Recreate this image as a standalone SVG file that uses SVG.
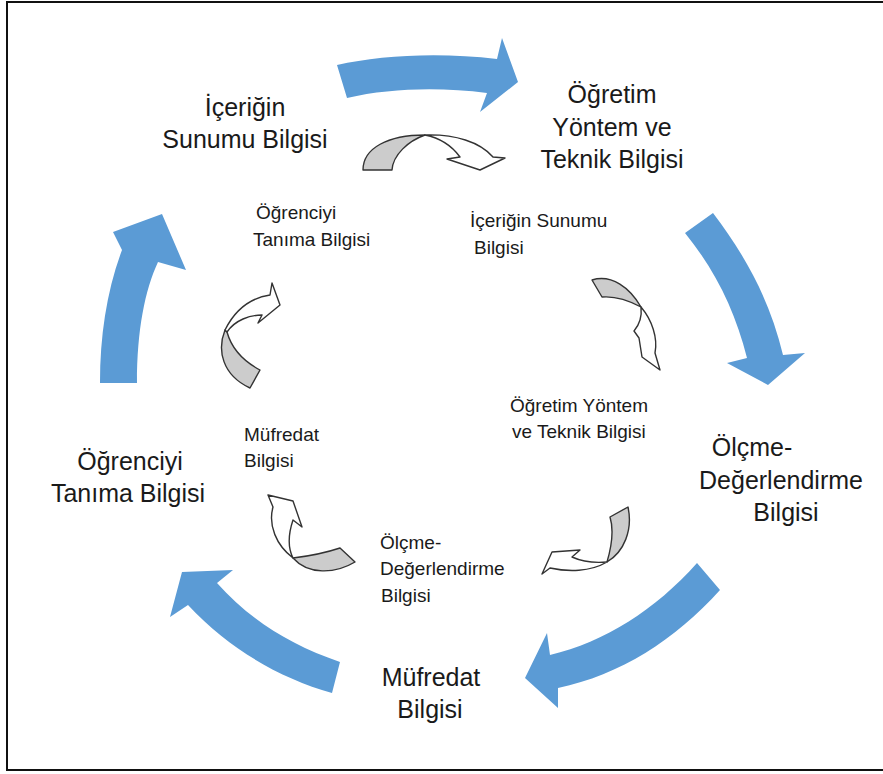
<svg xmlns="http://www.w3.org/2000/svg" width="883" height="774" viewBox="0 0 883 774">
  <style>
    .big { font-family: "Liberation Sans", Arial, sans-serif; font-size: 25px; fill: #1a1a1a; text-anchor: middle; }
    .small { font-family: "Liberation Sans", Arial, sans-serif; font-size: 19px; fill: #1a1a1a; }
    .cycle { fill: #5b9bd5; }
    .back { fill: #cccccc; stroke: #333333; stroke-width: 1.4; stroke-linejoin: round; }
    .front { fill: #ffffff; stroke: #333333; stroke-width: 1.4; stroke-linejoin: round; }
  </style>

  <rect x="0" y="0" width="883" height="774" fill="#ffffff"/>
  <!-- frame (right side runs past the canvas) -->
  <rect x="7" y="2" width="900" height="768" fill="none" stroke="#111111" stroke-width="2"/>

  <!-- outer cycle of blue curved arrows -->
  <g id="connectors">
    <path class="cycle" d="M337,65 C380,55 440,52 497,59 L502,38 L518,82 L480,112 L487,93 C440,87 390,88 347,98 Z"/>
    <path class="cycle" d="M685,233 L713,213 C745,255 770,300 783,355 L805,353 L768,385 L727,363 L747,358 C735,310 715,270 685,233 Z"/>
    <path class="cycle" d="M697,563 L720,590 C675,640 620,675 558,688 L558,708 L525,678 L547,633 L550,655 C605,642 655,610 697,563 Z"/>
    <path class="cycle" d="M340,662 L332,693 C280,678 230,650 188,605 L170,617 L182,572 L233,570 L217,583 C250,620 290,645 340,662 Z"/>
    <path class="cycle" d="M100,383 L137,383 C137,330 145,290 158,262 L186,270 L162,214 L113,232 L122,250 C107,290 100,335 100,383 Z"/>

    <!-- inner cycle of small twisted arrows -->
    <g id="inner-arrow-top">
      <path class="back" d="M363,170 C363,148 388,135 425,135 C408,141 393,155 392,170 Z"/>
      <path class="front" d="M425,135 C455,134 480,142 493,157 L505,158 L480,170 L447,159 L460,157 C452,146 440,138 425,135 Z"/>
    </g>
    <g id="inner-arrow-right">
      <path class="back" d="M592,280 C612,274 630,288 641,307 C628,300 614,296 602,297 Z"/>
      <path class="front" d="M641,307 C652,320 658,338 655,353 L660,370 L642,357 L639,338 L634,331 C640,324 642,316 641,307 Z"/>
    </g>
    <g id="inner-arrow-lowright">
      <path class="back" d="M628,507 C633,530 624,552 607,562 C612,545 614,530 610,517 Z"/>
      <path class="front" d="M607,562 C590,572 568,572 550,568 L542,574 L552,552 L580,550 L572,557 C583,562 596,563 607,562 Z"/>
    </g>
    <g id="inner-arrow-lowleft">
      <path class="back" d="M293,558 C310,556 328,552 340,548 L355,562 C335,574 308,575 293,558 Z"/>
      <path class="front" d="M293,558 C276,545 268,525 273,507 L268,495 L293,501 L302,527 L293,520 C288,535 288,548 293,558 Z"/>
    </g>
    <g id="inner-arrow-left">
      <path class="back" d="M225,330 C217,350 222,375 250,388 L260,370 C245,362 232,350 227,332 Z"/>
      <path class="front" d="M225,330 C235,310 250,298 270,295 L272,283 L280,305 L258,323 L262,315 C250,315 235,320 227,332 Z"/>
    </g>
  </g>

  <!-- outer labels -->
  <g id="icerigin-sunumu">
    <text class="big" x="245" y="116">İçeriğin</text>
    <text class="big" x="245" y="148">Sunumu Bilgisi</text>
  </g>
  <g id="ogretim-yontem">
    <text class="big" x="612" y="103">Öğretim</text>
    <text class="big" x="612" y="136">Yöntem ve</text>
    <text class="big" x="612" y="168">Teknik Bilgisi</text>
  </g>
  <g id="olcme-degerlendirme">
    <text class="big" x="752" y="456">Ölçme-</text>
    <text class="big" x="781" y="489">Değerlendirme</text>
    <text class="big" x="786" y="521">Bilgisi</text>
  </g>
  <g id="mufredat">
    <text class="big" x="431" y="686">Müfredat</text>
    <text class="big" x="430" y="718">Bilgisi</text>
  </g>
  <g id="ogrenciyi-tanima">
    <text class="big" x="130" y="470">Öğrenciyi</text>
    <text class="big" x="128" y="502">Tanıma Bilgisi</text>
  </g>

  <!-- inner labels -->
  <g id="inner-ogrenciyi">
    <text class="small" x="256" y="219">Öğrenciyi</text>
    <text class="small" x="253" y="246">Tanıma Bilgisi</text>
  </g>
  <g id="inner-icerigin">
    <text class="small" x="470" y="227">İçeriğin Sunumu</text>
    <text class="small" x="474" y="254">Bilgisi</text>
  </g>
  <g id="inner-ogretim">
    <text class="small" x="510" y="412">Öğretim Yöntem</text>
    <text class="small" x="512" y="438">ve Teknik Bilgisi</text>
  </g>
  <g id="inner-mufredat">
    <text class="small" x="244" y="441">Müfredat</text>
    <text class="small" x="244" y="467">Bilgisi</text>
  </g>
  <g id="inner-olcme">
    <text class="small" x="380" y="549">Ölçme-</text>
    <text class="small" x="380" y="575">Değerlendirme</text>
    <text class="small" x="381" y="602">Bilgisi</text>
  </g>
</svg>
